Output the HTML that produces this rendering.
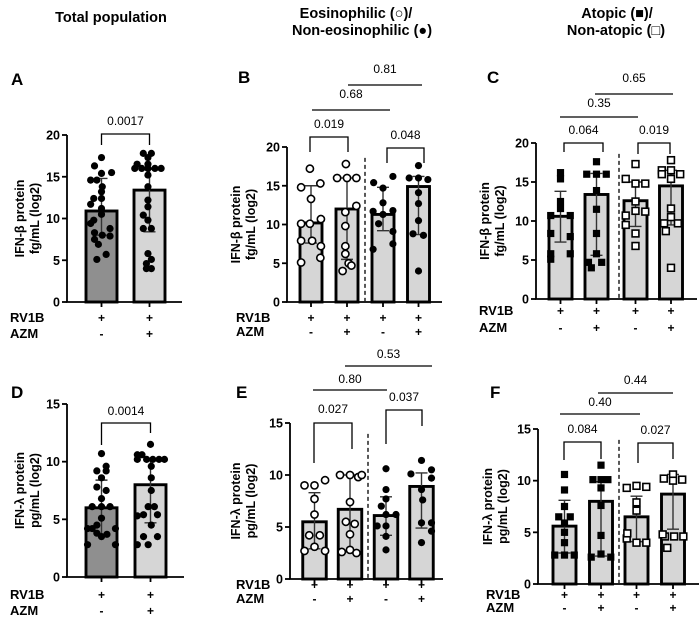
<!DOCTYPE html>
<html><head><meta charset="utf-8"><style>
html,body{margin:0;padding:0;background:#fff;}
svg{display:block;font-family:"Liberation Sans",Arial,sans-serif;}
</style></head><body>
<svg id="fig" width="700" height="621" viewBox="0 0 700 621" xmlns="http://www.w3.org/2000/svg">
<g id="static">
<text x="111" y="22" font-size="14.5" font-weight="bold" text-anchor="middle">Total population</text>
<text x="356" y="18" font-size="14.5" font-weight="bold" text-anchor="middle">Eosinophilic (○)/</text>
<text x="362" y="35" font-size="14.5" font-weight="bold" text-anchor="middle">Non-eosinophilic (●)</text>
<text x="617" y="18" font-size="14.5" font-weight="bold" text-anchor="middle">Atopic (■)/</text>
<text x="616" y="35" font-size="14.5" font-weight="bold" text-anchor="middle">Non-atopic (□)</text>
</g>
</svg>
<script>
// ---- data ----
const groupLabels = ["RV1B+AZM-","RV1B+AZM+","RV1B+AZM- (2)","RV1B+AZM+ (2)"];
const rv1bRow = ["+","+","+","+"];
const azmRow = ["-","+","-","+"];
const yTicksBeta = [0,5,10,15,20];
const yTicksLambda = [0,5,10,15];

const aValues1 = [17.3,16.3,15.4,15.5,14.6,14.6,13.8,13.2,12.4,12.4,11.7,11.2,10.5,9.8,9.4,8.8,8.3,8.0,7.9,7.5,6.9,5.7,5.1];
const aValues2 = [17.8,17.8,17.3,16.5,16.5,16.0,16.0,16.0,16.0,16.0,15.2,13.8,12.2,11.4,10.4,9.8,8.8,8.8,5.8,5.1,4.6,4.0,4.0];
const aMeans = [10.9,13.4];
const aSdLow = [8.0,8.4];
const aSdHigh = [14.8,15.9];

const dValues1 = [10.7,9.6,9.2,9.2,8.6,7.8,7.5,6.8,6.1,6.1,6.1,5.1,4.2,4.2,4.2,4.5,3.7,3.8,3.5,2.8,2.8];
const dValues2 = [11.5,10.6,10.6,10.2,10.2,10.2,10.2,10.2,9.6,8.6,7.5,6.1,6.1,5.4,5.4,5.3,4.5,3.5,3.5,2.8,2.8];
const dMeans = [6.0,8.0];
const dSdLow = [3.7,4.7];
const dSdHigh = [8.4,10.1];

const bValues1 = [17.2,14.8,15.3,13.3,10.7,10.1,10.1,7.9,7.9,7.2,5.1,5.7];
const bValues2 = [17.8,16.0,16.0,16.0,12.4,11.6,9.8,7.2,6.2,5.0,4.0,4.7];
const bValues3 = [15.4,16.2,14.7,12.8,11.7,11.3,11.8,10.1,9.1,7.5,6.8];
const bValues4 = [17.6,16.0,16.0,15.8,14.1,12.7,10.5,8.8,8.6,4.0];
const bMeans = [10.2,12.0,11.3,14.9];
const bSdLow = [7.6,5.5,9.2,8.7];
const bSdHigh = [15.0,16.0,14.8,16.2];

const cValues1 = [16.2,15.4,12.5,11.6,10.7,10.7,8.4,8.0,5.8,5.8,5.1];
const cValues2 = [17.6,16.0,16.0,16.0,13.9,11.5,8.4,5.8,4.7,4.7,4.0];
const cValues3 = [17.3,15.4,14.8,14.8,12.5,11.3,10.7,11.2,9.5,8.4,6.8];
const cValues4 = [17.8,16.5,16.5,16.0,16.0,15.4,11.6,10.5,9.7,9.7,8.7,4.0];
const cMeans = [10.6,13.4,12.6,14.5];
const cSdLow = [7.3,5.6,9.3,9.5];
const cSdHigh = [13.8,16.1,15.0,16.5];

const eValues1 = [9.0,9.0,9.5,7.7,6.2,4.2,4.2,3.1,2.7,2.7];
const eValues2 = [10.0,10.0,9.8,10.0,7.4,5.5,5.3,4.3,2.6,2.5,2.8];
const eValues3 = [10.6,8.6,7.7,7.0,6.2,6.2,5.1,5.1,4.1,2.8];
const eValues4 = [11.4,10.1,10.5,9.7,8.6,7.6,5.4,5.4,4.6,3.5];
const eMeans = [5.5,6.7,6.1,8.9];
const eSdLow = [2.9,2.6,4.2,4.9];
const eSdHigh = [8.3,10.0,7.9,10.2];

const fValues1 = [10.6,9.1,7.5,6.5,6.5,5.9,5.0,4.0,2.8,2.8,2.8];
const fValues2 = [11.5,10.1,10.1,10.1,9.3,7.6,4.7,2.6,2.9,2.6];
const fValues3 = [9.3,9.5,9.4,7.9,7.1,4.4,4.0,4.0,4.9];
const fValues4 = [10.2,10.6,10.1,10.0,4.6,4.6,4.6,4.8,3.5];
const fMeans = [5.6,8.0,6.5,8.7];
const fSdLow = [3.0,2.7,4.1,5.3];
const fSdHigh = [8.1,9.9,8.5,10.6];

// horizontal jitter (in units of bar half-width) – scatter layout
const aJit = [[0,-.45,0,.65,-.7,-.3,.05,0,-.5,0,-.7,0,0,-.5,-.7,.55,-.45,.05,.55,-.45,-.2,.3,-.3],[-.4,.12,-.1,-.8,-.1,-.95,-.5,-.1,.35,.75,-.1,-.1,-.1,-.1,-.4,-.1,.12,-.4,-.1,.12,-.2,-.2,.12]];
const dJit = [[0,.3,-.3,.3,0,-.3,.3,0,-.6,0,.55,0,-.9,-.6,.9,-.3,.35,-.3,0,-.9,.9],[0,-.85,-.55,-.85,-.25,.15,.55,.9,.05,.05,.05,.25,-.15,-.45,.45,-.85,.05,-.45,.45,-.85,-.15]];
const bJit = [[-.1,-.9,.85,0,.9,-.9,-.1,-.9,.1,.9,-.9,.85],[-.1,-.9,0,.85,.85,-.15,-.15,-.15,-.15,.15,-.4,.4],[-.85,.9,0,0,-.9,0,.9,-.4,.9,.9,-.9],[0,-.85,0,.85,0,0,0,-.5,.45,0]];
const cJit = [[0,0,0,0,-.85,.85,-.85,.85,-.85,.85,-.85],[0,-.85,0,.85,0,0,0,0,-.7,.45,-.45],[0,-.85,0,.85,0,0,-.85,.85,-.85,0,0],[0,-.8,0,.8,-.8,0,0,0,-.6,.6,-.45,0]];
const eJit = [[0,-.85,.9,0,0,-.45,.45,0,-.85,.9],[-.85,0,.7,1.0,0,-.35,.4,0,-.7,.55,0],[0,0,0,-.4,0,.85,-.75,0,0,0],[0,-.9,.85,.85,0,.1,0,.85,.85,0]];
const fJit = [[0,0,0,-.5,.5,0,0,0,-.85,0,.85],[0,-.7,0,.6,0,0,0,-.85,0,.85],[-.85,0,.85,0,0,-.85,0,.85,-.8],[-.8,0,.8,0,-.7,.1,.9,-.9,-.5]];

// ---- layout (not data) ----
const panels = [
 {id:"a",letter:"A",lx:11,ly:85,ax:67,xEnd:182,yTop:135,yBot:302,max:20,ticks:yTicksBeta,
  centers:[101.5,149.5],bw:31,fills:["#8f8f8f","#d6d6d6"],marks:["fc","fc"],vals:[aValues1,aValues2],jit:aJit,
  means:aMeans,lo:aSdLow,hi:aSdHigh,dash:null,rvX:10,rvY:322,azY:338,ylab:["IFN-β protein","fg/mL (log2)"],ylx:24},
 {id:"b",letter:"B",lx:238,ly:83,ax:287,xEnd:442,yTop:147,yBot:302,max:20,ticks:yTicksBeta,
  centers:[311,347,383,418.5],bw:22,fills:["#d6d6d6","#d6d6d6","#d6d6d6","#d6d6d6"],marks:["oc","oc","fc","fc"],
  vals:[bValues1,bValues2,bValues3,bValues4],jit:bJit,means:bMeans,lo:bSdLow,hi:bSdHigh,dash:365,rvX:236,rvY:322,azY:336,ylab:["IFN-β protein","fg/mL (log2)"],ylx:240},
 {id:"c",letter:"C",lx:487,ly:83,ax:536,xEnd:697,yTop:143,yBot:299,max:20,ticks:yTicksBeta,
  centers:[560.5,596.5,635.5,671],bw:23,fills:["#d6d6d6","#d6d6d6","#d6d6d6","#d6d6d6"],marks:["fs","fs","os","os"],
  vals:[cValues1,cValues2,cValues3,cValues4],jit:cJit,means:cMeans,lo:cSdLow,hi:cSdHigh,dash:619,rvX:479,rvY:315,azY:332,ylab:["IFN-β protein","fg/mL (log2)"],ylx:489},
 {id:"d",letter:"D",lx:11,ly:398,ax:67,xEnd:184,yTop:404,yBot:577,max:15,ticks:yTicksLambda,
  centers:[101.5,150.5],bw:31,fills:["#8f8f8f","#d6d6d6"],marks:["fc","fc"],vals:[dValues1,dValues2],jit:dJit,
  means:dMeans,lo:dSdLow,hi:dSdHigh,dash:null,rvX:10,rvY:599,azY:615,ylab:["IFN-λ protein","pg/mL (log2)"],ylx:24},
 {id:"e",letter:"E",lx:236,ly:398,ax:290,xEnd:443,yTop:423,yBot:579,max:15,ticks:yTicksLambda,
  centers:[314.5,350,386,421.5],bw:23.5,fills:["#d6d6d6","#d6d6d6","#d6d6d6","#d6d6d6"],marks:["oc","oc","fc","fc"],
  vals:[eValues1,eValues2,eValues3,eValues4],jit:eJit,means:eMeans,lo:eSdLow,hi:eSdHigh,dash:368,rvX:236,rvY:589,azY:603,ylab:["IFN-λ protein","pg/mL (log2)"],ylx:240},
 {id:"f",letter:"F",lx:490,ly:398,ax:538,xEnd:699,yTop:429,yBot:584,max:15,ticks:yTicksLambda,
  centers:[564.5,601,636.5,673],bw:23,fills:["#d6d6d6","#d6d6d6","#d6d6d6","#d6d6d6"],marks:["fs","fs","os","os"],
  vals:[fValues1,fValues2,fValues3,fValues4],jit:fJit,means:fMeans,lo:fSdLow,hi:fSdHigh,dash:619,rvX:486,rvY:599,azY:612,ylab:["IFN-λ protein","pg/mL (log2)"],ylx:492}
];
// significance annotations: [x1,x2,yTop,leftLegBottom,rightLegBottom,label,textY]
const annA = [[101.5,149.5,134,145,145,"0.0017",125]];
const annB = [[348,422,85,null,null,"0.81",73],[312,390,110,null,null,"0.68",98],[310,348,137,152,152,"0.019",128],[387,424,148,163,163,"0.048",139]];
const annC = [[595,673,94,null,null,"0.65",82],[560,638,117,null,null,"0.35",107],[564,603,143,152,152,"0.064",134],[638,670,143,154,154,"0.019",134]];
const annD = [[101.5,150.5,423,445,433,"0.0014",415]];
const annE = [[345,432,366,null,null,"0.53",358],[313,387,390,null,null,"0.80",383],[314,352,423,463,449,"0.027",413],[386,422,410,444,426,"0.037",401]];
const annF = [[598,673,393,null,null,"0.44",384],[560,640,414,null,null,"0.40",406],[564,601,442,460,459,"0.084",433],[638,673,443,463,459,"0.027",434]];
const anns = [annA,annB,annC,annD,annE,annF];

const NS="http://www.w3.org/2000/svg";
const svg=document.getElementById("fig");
function mk(tag,attrs,parent){const e=document.createElementNS(NS,tag);for(const k in attrs)e.setAttribute(k,attrs[k]);(parent||svg).appendChild(e);return e;}

panels.forEach((p,pi)=>{
  const g=mk("g",{});
  
  
  const y=v=>p.yBot-(v/p.max)*(p.yBot-p.yTop);
  const lt=mk("text",{x:p.lx,y:p.ly,"font-size":17,"font-weight":"bold"},g);lt.textContent=p.letter;
  
  
  const cy=(p.yTop+p.yBot)/2;
  p.ylab.forEach((s,i)=>{
    const t=mk("text",{x:0,y:0,"font-size":12.5,"font-weight":"bold","text-anchor":"middle",transform:`translate(${p.ylx+i*15},${cy}) rotate(-90)`},g);
    t.textContent=s;
    
    
  });
  p.centers.forEach((c,bi)=>{
    const r=mk("rect",{x:c-p.bw/2,y:y(p.means[bi]),width:p.bw,height:p.yBot-y(p.means[bi]),fill:p.fills[bi],stroke:"#000","stroke-width":2.9},g);
    
    
  });
  const ya=mk("path",{d:`M${p.ax},${p.yTop} V${p.yBot} H${p.xEnd}`,fill:"none",stroke:"#000","stroke-width":1.8},g);
  
  
  p.ticks.forEach(tv=>{
    mk("line",{x1:p.ax-5,x2:p.ax,y1:y(tv),y2:y(tv),stroke:"#000","stroke-width":1.8},g);
    const t=mk("text",{x:p.ax-7,y:y(tv)+4.5,"font-size":12.5,"font-weight":"bold","text-anchor":"end"},g);
    t.textContent=tv;
    
    
  });
  p.centers.forEach(c=>mk("line",{x1:c,x2:c,y1:p.yBot,y2:p.yBot+5,stroke:"#000","stroke-width":1.8},g));
  if(p.dash){const d=mk("line",{x1:p.dash,x2:p.dash,y1:y(p.max*0.93),y2:p.yBot,stroke:"#222","stroke-width":1.5,"stroke-dasharray":"4,3"},g);
    
    }
  p.centers.forEach((c,bi)=>{
    const lo=y(p.lo[bi]),hi=y(p.hi[bi]);
    const e=mk("path",{d:`M${c},${lo} V${hi} M${c-6},${hi} H${c+6} M${c-6},${lo} H${c+6}`,stroke:"#333","stroke-width":1.4,fill:"none"},g);
    
    
  });
  p.vals.forEach((arr,bi)=>{
    const c=p.centers[bi],m=p.marks[bi];
    arr.forEach((v,k)=>{
      const px=c+p.jit[bi][k]*(p.bw/2),py=y(v);
      let el;
      if(m==="fc")el=mk("circle",{cx:px,cy:py,r:3.6,fill:"#000"},g);
      else if(m==="oc")el=mk("circle",{cx:px,cy:py,r:3.6,fill:"#fff",stroke:"#000","stroke-width":1.6},g);
      else if(m==="fs")el=mk("rect",{x:px-3.6,y:py-3.6,width:7.2,height:7.2,fill:"#000"},g);
      else el=mk("rect",{x:px-3.4,y:py-3.4,width:6.8,height:6.8,fill:"#fff",stroke:"#000","stroke-width":1.6},g);
      
      
    });
  });
  [["RV1B",p.rvY,rv1bRow],["AZM",p.azY,azmRow]].forEach(([lab,yy,row])=>{
    const t=mk("text",{x:p.rvX,y:yy,"font-size":13,"font-weight":"bold"},g);t.textContent=lab;
    
    
    p.centers.forEach((c,bi)=>{
      const s=mk("text",{x:c,y:yy,"font-size":12,"font-weight":"bold","text-anchor":"middle"},g);s.textContent=row[bi];
      
      
    });
  });
  anns[pi].forEach(a=>{
    const [x1,x2,yt,l1,l2,lab,ty]=a;
    const d=l1==null?`M${x1},${yt} H${x2}`:`M${x1},${l1} V${yt} H${x2} V${l2}`;
    const pth=mk("path",{d:d,fill:"none",stroke:"#000","stroke-width":1.3},g);
    
    
    const t=mk("text",{x:(x1+x2)/2,y:ty,"font-size":12,"text-anchor":"middle"},g);t.textContent=lab;
    
    
  });
});
</script>
</body></html>
